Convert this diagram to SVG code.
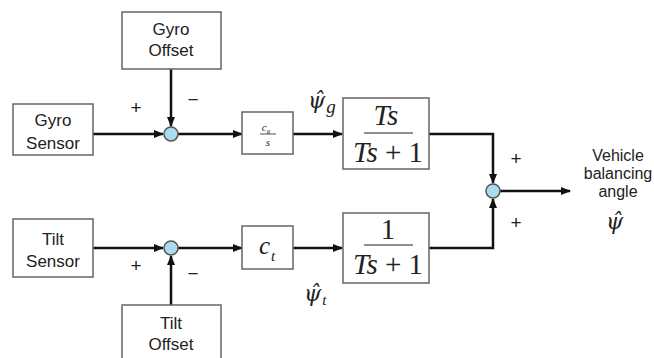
<svg xmlns="http://www.w3.org/2000/svg" width="654" height="358" viewBox="0 0 654 358">
<style>
.box{fill:#fff;stroke:#666;stroke-width:1.5}
.lbl{font-family:"Liberation Sans",Arial,sans-serif;font-size:17px;fill:#222;text-anchor:middle}
.out{font-family:"Liberation Sans",Arial,sans-serif;font-size:16px;fill:#222;text-anchor:middle}
.sign{font-family:"Liberation Sans",Arial,sans-serif;font-size:19px;fill:#222;text-anchor:middle}
.math{font-family:"Liberation Serif","Times New Roman",serif;fill:#222}
.psi{font-family:"DejaVu Serif",serif;font-style:italic;fill:#222}
.w{stroke:#111;stroke-width:2.5;fill:none}
.sum{fill:#a9dcef;stroke:#555;stroke-width:1.5}
</style>
<defs>
<marker id="ar" markerWidth="10" markerHeight="10" refX="9" refY="5" orient="auto" markerUnits="userSpaceOnUse">
<path d="M0,1 L10,5 L0,9 z" fill="#111"/>
</marker>
</defs>
<rect width="654" height="358" fill="#fff"/>
<g id="connectors">
<path class="w" d="M93,134 H163" marker-end="url(#ar)"/>
<path class="w" d="M171,69 V126" marker-end="url(#ar)"/>
<path class="w" d="M178,134 H242" marker-end="url(#ar)"/>
<path class="w" d="M293,134 H342" marker-end="url(#ar)"/>
<path class="w" d="M429,134 H493 V183" marker-end="url(#ar)"/>
<path class="w" d="M500,191 H570" marker-end="url(#ar)"/>
<path class="w" d="M93,248 H163" marker-end="url(#ar)"/>
<path class="w" d="M171,358 V256" marker-end="url(#ar)"/>
<path class="w" d="M178,248 H242" marker-end="url(#ar)"/>
<path class="w" d="M293,248 H342" marker-end="url(#ar)"/>
<path class="w" d="M429,248 H493 V199" marker-end="url(#ar)"/>
</g>
<g id="gyro-offset">
<rect class="box" x="122" y="12" width="99" height="57"/>
<text class="lbl" x="171" y="35">Gyro</text>
<text class="lbl" x="171" y="56">Offset</text>
</g>
<g id="gyro-sensor">
<rect class="box" x="13" y="104" width="80" height="51"/>
<text class="lbl" x="53" y="126">Gyro</text>
<text class="lbl" x="53" y="149">Sensor</text>
</g>
<g id="sum1">
<circle class="sum" cx="171" cy="134" r="7"/>
<text class="sign" x="136" y="114">+</text>
<text class="sign" x="193" y="106">−</text>
</g>
<g id="cg-block">
<rect class="box" x="242" y="112" width="51" height="42"/>
<text class="math" x="266" y="131" font-size="11" font-style="italic" text-anchor="middle">c<tspan font-size="7" dy="2">g</tspan></text>
<line x1="260" y1="134" x2="276" y2="134" stroke="#222" stroke-width="0.8"/>
<text class="math" x="268" y="146" font-size="11" font-style="italic" text-anchor="middle">s</text>
</g>
<g id="psi-g-label">
<text class="psi" x="308" y="108" font-size="22">ψ̂<tspan class="math" font-size="19" dx="1" dy="5">g</tspan></text>
</g>
<g id="hp-filter">
<rect class="box" x="343" y="98" width="86" height="71"/>
<text class="math" x="386" y="125" font-size="29" font-style="italic" text-anchor="middle">Ts</text>
<line x1="364" y1="133" x2="413" y2="133" stroke="#222" stroke-width="1.2"/>
<text class="math" x="388" y="162" font-size="29" text-anchor="middle"><tspan font-style="italic">Ts</tspan> + 1</text>
</g>
<g id="sum2">
<circle class="sum" cx="493" cy="191" r="7"/>
<text class="sign" x="516" y="165">+</text>
<text class="sign" x="516" y="229">+</text>
</g>
<g id="output-label">
<text class="out" x="618" y="161">Vehicle</text>
<text class="out" x="618" y="179">balancing</text>
<text class="out" x="618" y="197">angle</text>
<text class="psi" x="606" y="229" font-size="22">ψ̂</text>
</g>
<g id="tilt-sensor">
<rect class="box" x="13" y="219" width="80" height="58"/>
<text class="lbl" x="53" y="245">Tilt</text>
<text class="lbl" x="53" y="267">Sensor</text>
</g>
<g id="sum3">
<circle class="sum" cx="171" cy="248" r="7"/>
<text class="sign" x="136" y="272">+</text>
<text class="sign" x="193" y="280">−</text>
</g>
<g id="tilt-offset">
<rect class="box" x="122" y="305" width="99" height="60"/>
<text class="lbl" x="171" y="329">Tilt</text>
<text class="lbl" x="171" y="350">Offset</text>
</g>
<g id="ct-block">
<rect class="box" x="242" y="226" width="51" height="43"/>
<text class="math" x="259" y="254" font-size="25" font-style="italic">c<tspan font-size="15" dx="1" dy="7">t</tspan></text>
</g>
<g id="psi-t-label">
<text class="psi" x="304" y="301" font-size="22">ψ̂<tspan class="math" font-size="15" dx="1" dy="4">t</tspan></text>
</g>
<g id="lp-filter">
<rect class="box" x="343" y="213" width="86" height="70"/>
<text class="math" x="388" y="239" font-size="29" text-anchor="middle">1</text>
<line x1="364" y1="245" x2="413" y2="245" stroke="#222" stroke-width="1.2"/>
<text class="math" x="388" y="274" font-size="29" text-anchor="middle"><tspan font-style="italic">Ts</tspan> + 1</text>
</g>
</svg>
